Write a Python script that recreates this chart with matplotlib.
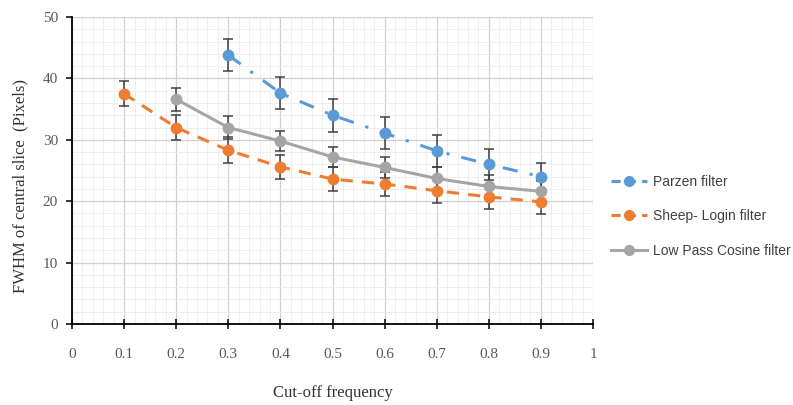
import matplotlib
matplotlib.use("Agg")
import matplotlib.pyplot as plt
import numpy as np
from matplotlib.lines import Line2D

x_parzen = [0.3, 0.4, 0.5, 0.6, 0.7, 0.8, 0.9]
y_parzen = [43.8, 37.6, 34.0, 31.1, 28.2, 26.0, 24.0]
e_parzen = [2.6, 2.6, 2.7, 2.6, 2.6, 2.5, 2.3]

x_sheep = [0.1, 0.2, 0.3, 0.4, 0.5, 0.6, 0.7, 0.8, 0.9]
y_sheep = [37.5, 32.0, 28.3, 25.6, 23.6, 22.8, 21.7, 20.7, 19.9]
e_sheep = [2.0, 2.0, 2.1, 2.0, 2.0, 2.0, 2.0, 2.0, 2.0]

x_cos = [0.2, 0.3, 0.4, 0.5, 0.6, 0.7, 0.8, 0.9]
y_cos = [36.6, 32.0, 29.8, 27.2, 25.5, 23.7, 22.4, 21.6]
e_cos = [1.9, 1.9, 1.7, 1.7, 1.7, 1.8, 1.8, 1.7]

labels = ["Parzen filter", "Sheep- Login filter", "Low Pass Cosine filter"]
x_ticks = [0, 0.1, 0.2, 0.3, 0.4, 0.5, 0.6, 0.7, 0.8, 0.9, 1]
y_ticks = [0, 10, 20, 30, 40, 50]

fig = plt.figure(figsize=(7.93, 4.05), dpi=100)
ax = fig.add_axes([0.0908, 0.2, 0.657, 0.758])

ax.set_xlim(0, 1)
ax.set_ylim(0, 50)
ax.set_xticks(x_ticks)
ax.set_xticklabels([("%g" % t) for t in x_ticks])
ax.set_yticks(y_ticks)
ax.set_xticks(np.arange(0, 1.0001, 0.02), minor=True)
ax.set_yticks(np.arange(0, 50.001, 2), minor=True)
ax.grid(which="major", color="#d0d0d0", lw=0.9)
ax.grid(which="minor", color="#ececec", lw=0.6)
ax.set_axisbelow(True)

for s in ["top", "right"]:
    ax.spines[s].set_visible(False)
for s in ["left", "bottom"]:
    ax.spines[s].set_color("black")
    ax.spines[s].set_linewidth(1.3)

ax.tick_params(axis="x", which="major", direction="inout", length=7, width=1.1, color="black",
               labelsize=11, labelcolor="#595959", pad=14)
ax.tick_params(axis="y", which="major", direction="out", length=4, width=1.1, color="black",
               labelsize=11, labelcolor="#595959", pad=6)
ax.tick_params(which="minor", length=0)
for lab in ax.get_xticklabels() + ax.get_yticklabels():
    lab.set_family("Liberation Serif")

ecol = "#404040"
ax.errorbar(x_parzen, y_parzen, yerr=e_parzen, color="#5b9bd5", ls=(0, (5, 4, 1, 4)), lw=2.2,
            marker="o", ms=7.5, ecolor=ecol, elinewidth=1.1, capsize=3.5, capthick=1.1, zorder=3)
ax.errorbar(x_sheep, y_sheep, yerr=e_sheep, color="#ed7d31", ls=(0, (4, 3)), lw=2.2,
            marker="o", ms=7.5, ecolor=ecol, elinewidth=1.1, capsize=3.5, capthick=1.1, zorder=3)
ax.errorbar(x_cos, y_cos, yerr=e_cos, color="#a5a5a5", ls="-", lw=2.2,
            marker="o", ms=7.5, ecolor=ecol, elinewidth=1.1, capsize=3.5, capthick=1.1, zorder=3)

ax.set_xlabel("Cut-off frequency", family="Liberation Serif", fontsize=12, color="#333333", labelpad=17)
ax.set_ylabel("FWHM of central slice  (Pixels)", family="Liberation Serif", fontsize=12, color="#333333")
ax.yaxis.set_label_coords(-0.083, 0.45)

hs = [Line2D([], [], color="#5b9bd5", ls=(0, (3, 2)), lw=2.2, marker="o", ms=7),
      Line2D([], [], color="#ed7d31", ls=(0, (3, 2)), lw=2.2, marker="o", ms=7),
      Line2D([], [], color="#a5a5a5", ls="-", lw=2.2, marker="o", ms=7)]
leg = fig.legend(hs, labels, loc="upper left", bbox_to_anchor=(0.755, 0.6), frameon=False,
                 prop={"family": "Liberation Sans", "size": 10},
                 labelspacing=1.5, handlelength=2.6, handletextpad=0.4)
for t in leg.get_texts():
    t.set_color("#404040")

fig.savefig("out.png", dpi=100)
